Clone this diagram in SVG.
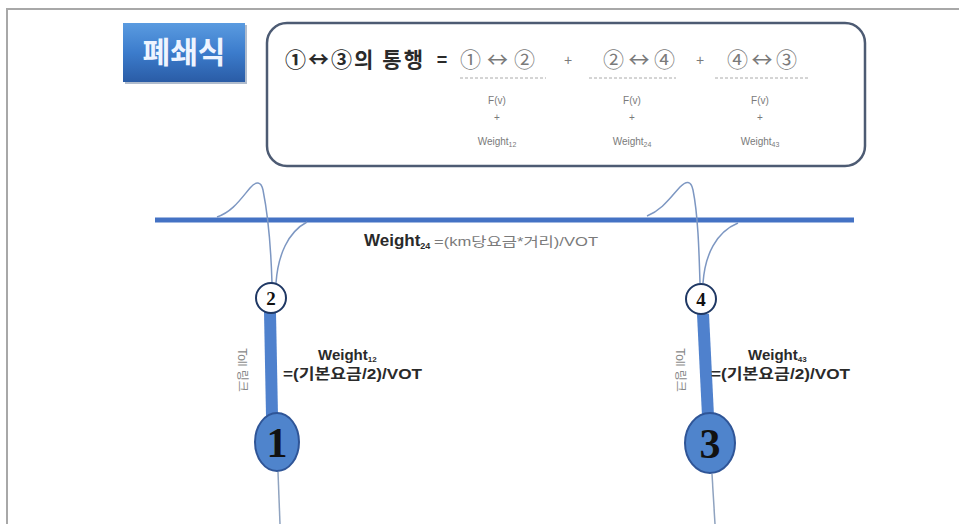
<svg xmlns="http://www.w3.org/2000/svg" width="959" height="524" viewBox="0 0 959 524">
<defs>
<linearGradient id="tg" x1="0" y1="0" x2="0" y2="1">
<stop offset="0" stop-color="#5a9be0"/>
<stop offset="0.5" stop-color="#3c7ccc"/>
<stop offset="1" stop-color="#2a5ca6"/>
</linearGradient>
<style>
.frame{stroke:#a8a8a8;stroke-width:2;fill:none}
.road{stroke:#4472c4;stroke-width:5;fill:none}
.curve{stroke:#7d97c2;stroke-width:1.5;fill:none}
.thin{stroke:#8fa3c0;stroke-width:1.5;fill:none}
.bar{stroke:#4f81cd;stroke-width:12;stroke-linecap:butt;fill:none}
.small{fill:#ffffff;stroke:#1f3864;stroke-width:2}
.big{fill:#4f84cc;stroke:#2f5597;stroke-width:2}
.sans{font-family:"Noto Sans CJK KR","Liberation Sans",sans-serif}
.cjk{font-family:"Noto Sans CJK KR","Liberation Sans",sans-serif}
.frm{font-family:"Liberation Sans","Noto Sans CJK KR",sans-serif;fill:#7a7a7a}
.lbl{font-family:"Liberation Sans","Noto Sans CJK KR",sans-serif;font-weight:bold;fill:#2a2a2a}
.dash{stroke:#aaaaaa;stroke-width:1;stroke-dasharray:3 2}
.num{font-family:"Liberation Serif",serif;fill:#111;text-anchor:middle}
.toll{font-family:"Liberation Sans","Noto Sans CJK KR",sans-serif;font-size:12px;fill:#888}
</style>
</defs>
<rect width="959" height="524" fill="#ffffff"/>
<path class="frame" d="M7 524 V9 H959"/>

<g id="title">
<rect x="125" y="25" width="122" height="59" fill="#1e3f70" opacity="0.35"/>
<rect x="123" y="23" width="122" height="59" fill="url(#tg)"/>
<text x="184" y="63" text-anchor="middle" class="sans" font-size="30" font-weight="bold" fill="#eef4ff">폐쇄식</text>
</g>

<g id="formula">
<rect x="267" y="23" width="598" height="143" rx="20" fill="#ffffff" stroke="#4d5b73" stroke-width="2.5"/>
<text x="285" y="67" class="cjk" font-size="21" font-weight="bold" fill="#2a2a2a" textLength="138" lengthAdjust="spacing">①↔③의 통행</text>
<text x="442" y="66" class="lbl" font-size="18" text-anchor="middle">=</text>
<text x="460" y="67" class="cjk" font-size="21" fill="#7a7a7a" textLength="75" lengthAdjust="spacing">①↔②</text>
<text x="568" y="65" class="frm" font-size="14" text-anchor="middle">+</text>
<text x="603" y="67" class="cjk" font-size="21" fill="#7a7a7a" textLength="72" lengthAdjust="spacing">②↔④</text>
<text x="700" y="65" class="frm" font-size="14" text-anchor="middle">+</text>
<text x="727" y="67" class="cjk" font-size="21" fill="#7a7a7a" textLength="70" lengthAdjust="spacing">④↔③</text>
<line class="dash" x1="460" y1="78" x2="546" y2="78"/>
<line class="dash" x1="589" y1="78" x2="676" y2="78"/>
<line class="dash" x1="715" y1="78" x2="808" y2="78"/>
<g class="frm" font-size="10" text-anchor="middle">
<text x="497" y="104">F(v)</text><text x="497" y="121">+</text><text x="497" y="145">Weight<tspan font-size="7" dy="2">12</tspan></text>
<text x="632" y="104">F(v)</text><text x="632" y="121">+</text><text x="632" y="145">Weight<tspan font-size="7" dy="2">24</tspan></text>
<text x="760" y="104">F(v)</text><text x="760" y="121">+</text><text x="760" y="145">Weight<tspan font-size="7" dy="2">43</tspan></text>
</g>
</g>

<g id="connectors">
<line class="road" x1="155" y1="220" x2="854" y2="220"/>
<path class="curve" d="M217 217 C232 212 240 200 250 188 C256 181 261 181 263 190 C268 215 271 250 272 283"/>
<path class="curve" d="M276 283 C278 255 288 232 307 222"/>
<path class="curve" d="M647 216 C662 210 670 198 680 187 C686 181 691 180 693 190 C698 215 699 250 700 283"/>
<path class="curve" d="M703 283 C705 255 716 232 738 223"/>
<line class="bar" x1="270" y1="312" x2="272" y2="416"/>
<line class="bar" x1="703" y1="314" x2="708" y2="416"/>
<line class="thin" x1="278" y1="472" x2="280" y2="524"/>
<line class="thin" x1="712" y1="474" x2="715" y2="524"/>
</g>

<g id="node2">
<circle class="small" cx="271" cy="298" r="15"/>
<text x="271" y="305" class="num" font-size="19" font-weight="bold">2</text>
</g>
<g id="node4">
<circle class="small" cx="701" cy="299" r="15"/>
<text x="701" y="306" class="num" font-size="19" font-weight="bold">4</text>
</g>
<g id="node1">
<ellipse class="big" cx="277" cy="442" rx="22" ry="29"/>
<text x="277" y="457" class="num" font-size="42" font-weight="bold">1</text>
</g>
<g id="node3">
<ellipse class="big" cx="710" cy="443" rx="25" ry="30"/>
<text x="710" y="458" class="num" font-size="42" font-weight="bold">3</text>
</g>

<g id="labels">
<text x="364" y="246" class="lbl" font-size="17">Weight<tspan font-size="9" dy="3">24</tspan></text>
<text x="434" y="246" class="frm" font-size="13" fill="#8a8a8a" textLength="164" lengthAdjust="spacingAndGlyphs">=(km당요금*거리)/VOT</text>
<text transform="translate(238 370) rotate(90)" text-anchor="middle" class="toll">Toll 링크</text>
<text transform="translate(676 370) rotate(90)" text-anchor="middle" class="toll">Toll 링크</text>
<text x="318" y="360" class="lbl" font-size="15">Weight<tspan font-size="8" dy="2">12</tspan></text>
<text x="283" y="379" class="lbl" font-size="15" textLength="139" lengthAdjust="spacingAndGlyphs">=(기본요금/2)/VOT</text>
<text x="748" y="360" class="lbl" font-size="15">Weight<tspan font-size="8" dy="2">43</tspan></text>
<text x="711" y="379" class="lbl" font-size="15" textLength="139" lengthAdjust="spacingAndGlyphs">=(기본요금/2)/VOT</text>
</g>
</svg>
